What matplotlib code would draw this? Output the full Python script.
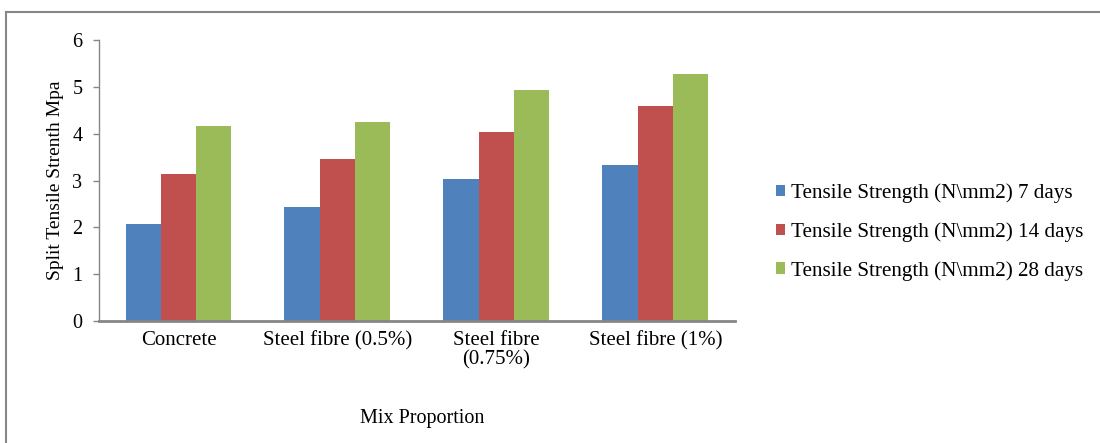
import matplotlib
matplotlib.use("Agg")
import matplotlib.pyplot as plt
import numpy as np
from matplotlib.lines import Line2D

categories = ["Concrete", "Steel fibre (0.5%)", "Steel fibre\n(0.75%)", "Steel fibre (1%)"]
series_names = ["Tensile Strength (N\\mm2) 7 days",
                "Tensile Strength (N\\mm2) 14 days",
                "Tensile Strength (N\\mm2) 28 days"]
days7 = [2.07, 2.44, 3.03, 3.34]
days14 = [3.13, 3.46, 4.04, 4.59]
days28 = [4.16, 4.25, 4.94, 5.28]
series = [days7, days14, days28]
colors = ["#4F81BD", "#C0504D", "#9BBB59"]

plt.rcParams['font.family'] = ['Liberation Serif', 'DejaVu Serif']

fig = plt.figure(figsize=(11, 4.43), dpi=100)
ax = fig.add_axes([0.09, 0.2754, 0.578, 0.6343])

x = np.arange(len(categories))
w = 0.222
for i, (vals, c, name) in enumerate(zip(series, colors, series_names)):
    ax.bar(x + (i - 1) * w, vals, width=w, color=c, label=name, zorder=2)

ax.set_xlim(-0.5, len(categories) - 0.5)
ax.set_ylim(0, 6)
ax.set_yticks(range(0, 7))
ax.set_xticks(x)
ax.set_xticklabels(categories, fontsize=15, linespacing=1.05)
ax.tick_params(axis='x', length=0, pad=7)
ax.tick_params(axis='y', length=4, width=1, color='#868686', labelsize=14.5, pad=8, direction='out')
for s in ['top', 'right']:
    ax.spines[s].set_visible(False)
for s in ['left', 'bottom']:
    ax.spines[s].set_color('#868686')
ax.spines['left'].set_linewidth(1.0)
ax.spines['bottom'].set_linewidth(2.0)

ax.set_ylabel("Split Tensile Strenth Mpa", fontsize=14, labelpad=6)
fig.text(422 / 1100, 1 - 418 / 443, "Mix Proportion", fontsize=14.5, ha='center', va='center')

leg = fig.legend(loc='center left', bbox_to_anchor=(0.6955, 1 - 232 / 443),
                 frameon=False, fontsize=15.2, handlelength=0.45, handleheight=0.45,
                 handletextpad=0.3, labelspacing=0.9, borderpad=0)

# chart border (top and left visible)
fig.add_artist(Line2D([6 / 1100, 1.0], [1 - 12 / 443, 1 - 12 / 443],
                      transform=fig.transFigure, color='#868686', lw=1.5))
fig.add_artist(Line2D([6 / 1100, 6 / 1100], [0, 1 - 12 / 443],
                      transform=fig.transFigure, color='#868686', lw=1.5))

fig.savefig("out.png", dpi=100)
